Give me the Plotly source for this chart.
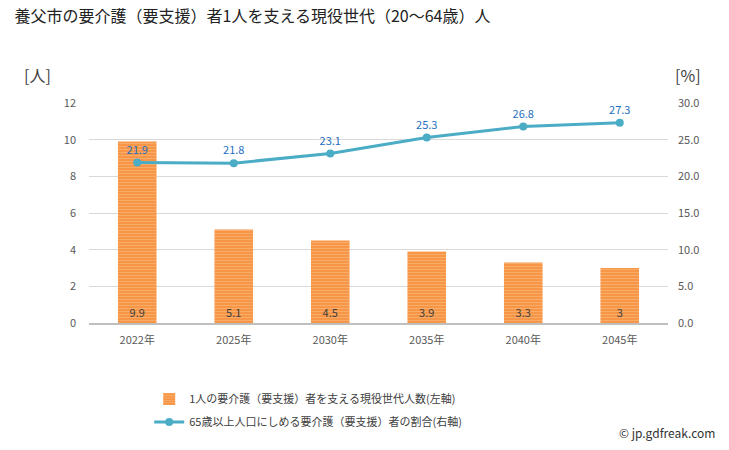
import plotly.graph_objects as go

categories = ["2022年", "2025年", "2030年", "2035年", "2040年", "2045年"]
bar_values = [9.9, 5.1, 4.5, 3.9, 3.3, 3.0]
bar_labels = ["9.9", "5.1", "4.5", "3.9", "3.3", "3"]
line_values = [21.9, 21.8, 23.1, 25.3, 26.8, 27.3]
line_labels = ["21.9", "21.8", "23.1", "25.3", "26.8", "27.3"]
left_ticks = [0, 2, 4, 6, 8, 10, 12]
right_ticks = [0, 5, 10, 15, 20, 25, 30]
right_tick_text = ["0.0", "5.0", "10.0", "15.0", "20.0", "25.0", "30.0"]

FONT = "Noto Sans CJK JP"

fig = go.Figure()
fig.add_trace(go.Bar(
    x=categories, y=bar_values, name="1人の要介護（要支援）者を支える現役世代人数(左軸)",
    legendgroup="a",
    marker=dict(color="#F79646", line=dict(width=0),
                pattern=dict(shape="-", fgcolor="#FBC08A", size=3, solidity=0.35, fillmode="overlay")),
    width=0.40,
    text=bar_labels, textposition="inside", insidetextanchor="start",
    textfont=dict(color="#404040", size=11, family=FONT),
    yaxis="y",
))
fig.add_trace(go.Scatter(
    x=categories, y=line_values, name="65歳以上人口にしめる要介護（要支援）者の割合(右軸)",
    legendgroup="b",
    mode="lines+markers+text",
    line=dict(color="#4BACC6", width=3),
    marker=dict(color="#4BACC6", size=8),
    text=line_labels, textposition="top center",
    textfont=dict(color="#1F6FBF", size=11, family=FONT),
    yaxis="y2",
))

fig.update_layout(
    width=729, height=450,
    margin=dict(l=89, r=61, t=103, b=127),
    paper_bgcolor="white", plot_bgcolor="white",
    font=dict(family=FONT, size=11, color="#595959"),
    title=dict(text="養父市の要介護（要支援）者1人を支える現役世代（20～64歳）人",
               x=0.02, xanchor="left", y=0.975, yanchor="top",
               font=dict(size=16, color="#222222", family=FONT)),
    showlegend=True,
    legend=dict(x=0.104, y=-0.28, xanchor="left", yanchor="top",
                font=dict(size=11, color="#404040", family=FONT),
                bgcolor="rgba(0,0,0,0)", tracegroupgap=4),
    xaxis=dict(showgrid=False, showline=True, linecolor="#BFBFBF", linewidth=2,
               ticks="", ticklabelstandoff=6, tickfont=dict(size=11, color="#595959")),
    yaxis=dict(range=[0, 12], tickvals=left_ticks, showgrid=True, gridcolor="#D9D9D9",
               zeroline=False, ticks="", ticklabelstandoff=12,
               tickfont=dict(size=11, color="#595959")),
    yaxis2=dict(range=[0, 30], tickvals=right_ticks, ticktext=right_tick_text,
                overlaying="y", side="right", showgrid=False, zeroline=False,
                ticks="", ticklabelstandoff=9,
                tickfont=dict(size=11, color="#595959")),
)

fig.add_annotation(text="[人]", xref="paper", yref="paper", x=-0.116, y=1.127,
                   xanchor="left", yanchor="middle", showarrow=False,
                   font=dict(size=16, color="#404040", family=FONT))
fig.add_annotation(text="[%]", xref="paper", yref="paper", x=1.009, y=1.127,
                   xanchor="left", yanchor="middle", showarrow=False,
                   font=dict(size=16, color="#404040", family=FONT))
fig.add_annotation(text="© jp.gdfreak.com", xref="paper", yref="paper", x=1.085, y=-0.545,
                   xanchor="right", yanchor="bottom", showarrow=False,
                   font=dict(size=12, color="#333333", family=FONT))

fig.write_html("out.html")
